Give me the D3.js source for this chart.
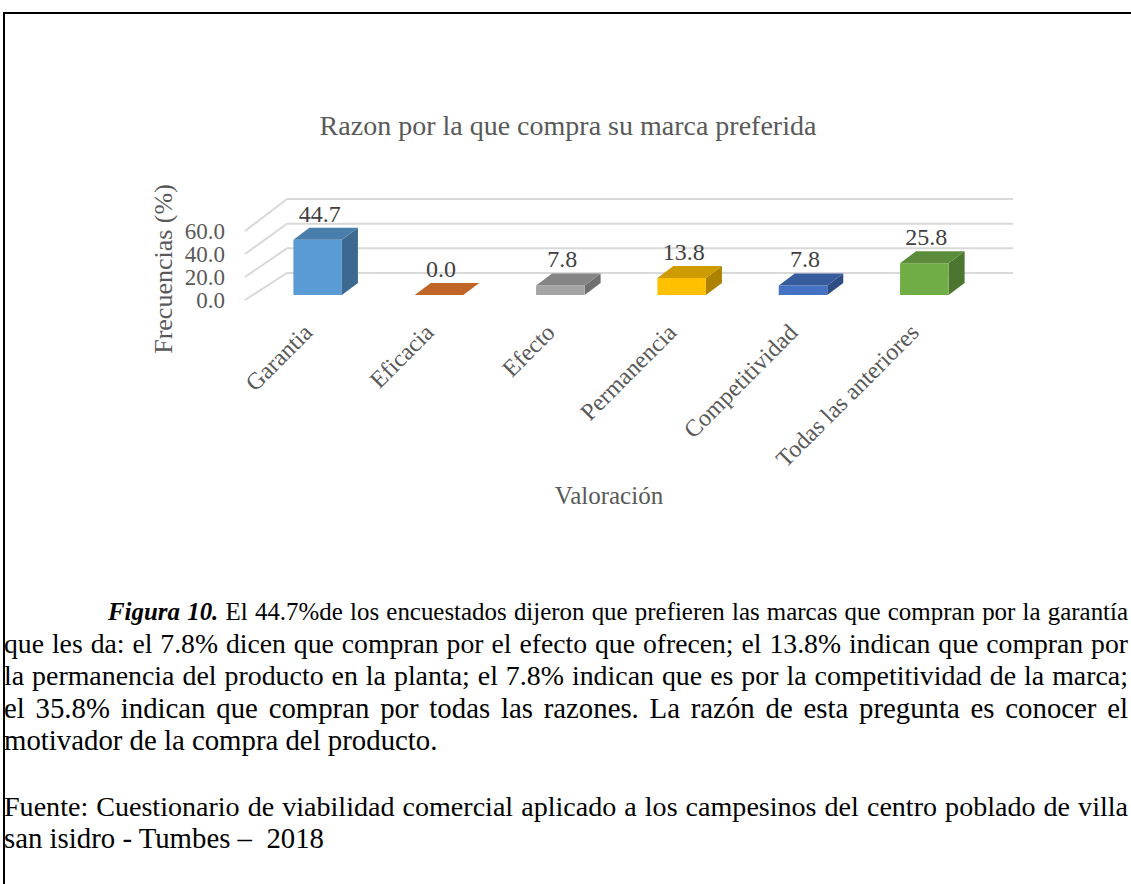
<!DOCTYPE html>
<html>
<head>
<meta charset="utf-8">
<script src="https://cdn.jsdelivr.net/npm/d3@7"></script>
<style>
  body { margin: 0; background: #fff; }
  text { font-family: "Liberation Serif", "Times New Roman", serif; }
</style>
</head>
<body>
<div id="grafico"></div>
<script>
// datos
var categorias = ["Garantia", "Eficacia", "Efecto", "Permanencia", "Competitividad", "Todas las anteriores"];
var frecuencias = [44.7, 0.0, 7.8, 13.8, 7.8, 25.8];
var ticksY = [0, 20, 40, 60];
var titulo = "Razon por la que compra su marca preferida";
var tituloY = "Frecuencias (%)";
var tituloX = "Valoración";
var primeraLinea = " El 44.7%de los encuestados dijeron que prefieren las marcas que compran por la garantía";
var lineasNota = [
  "que les da: el 7.8% dicen que compran por el efecto que ofrecen; el 13.8% indican que compran por",
  "la permanencia del producto en la planta; el 7.8% indican que es por la competitividad de la marca;",
  "el 35.8% indican que compran por todas las razones. La razón de esta pregunta es conocer el",
  "motivador de la compra del producto."
];
var lineasFuente = [
  "Fuente: Cuestionario de viabilidad comercial aplicado a los campesinos del centro poblado de villa",
  "san isidro - Tumbes –  2018"
];

var width = 1131, height = 884;
var gris = "#595959";
var paleta = ["#5B9BD5", "#ED7D31", "#A5A5A5", "#FFC000", "#4472C4", "#70AD47"];

var svg = d3.select("#grafico").append("svg")
  .attr("width", width)
  .attr("height", height);

// marco
svg.append("path")
  .attr("d", "M4," + height + "V13H" + width)
  .attr("fill", "none")
  .attr("stroke", "#000")
  .attr("stroke-width", 2);

////////////////////////// Escalas //////////////////////////
var x = d3.scaleBand().domain(categorias).range([257, 985]).paddingInner(0.6).paddingOuter(0.3);
var yBar = d3.scaleLinear().domain([0, 60]).range([295, 221]);
var yBack = d3.scaleLinear().domain([0, 60]).range([273, 199]);
var yFront = d3.scaleLinear().domain([0, 60]).range([300, 231]);
var color = d3.scaleOrdinal().domain(categorias).range(paleta);
var dx = 16, dy = -12;
var paredX0 = 245, paredX1 = 287, paredX2 = 1013;

////////////////////////// Rejilla //////////////////////////
var rejilla = svg.append("g").attr("stroke", "#D9D9D9").attr("stroke-width", 2).attr("fill", "none");
rejilla.selectAll("path")
  .data(ticksY)
  .enter()
  .append("path")
  .attr("d", function(d) {
    return "M" + paredX0 + "," + yFront(d) + "L" + paredX1 + "," + yBack(d) + "H" + paredX2;
  });

svg.append("g").selectAll("text")
  .data(ticksY)
  .enter()
  .append("text")
  .attr("x", 225)
  .attr("y", function(d) { return yFront(d) + 8; })
  .attr("text-anchor", "end")
  .attr("font-size", 23)
  .attr("fill", gris)
  .text(function(d) { return d3.format(".1f")(d); });

////////////////////////// Barras 3D //////////////////////////
var barras = svg.append("g").selectAll("g")
  .data(frecuencias)
  .enter()
  .append("g");

function caraFrente(d, i) {
  var x0 = x(categorias[i]), x1 = x0 + x.bandwidth();
  return "M" + x0 + "," + yBar(0) + "H" + x1 + "V" + yBar(d) + "H" + x0 + "Z";
}
function caraArriba(d, i) {
  var x0 = x(categorias[i]), x1 = x0 + x.bandwidth(), yt = yBar(d);
  return "M" + x0 + "," + yt + "H" + x1 + "L" + (x1 + dx) + "," + (yt + dy) + "H" + (x0 + dx) + "Z";
}
function caraLado(d, i) {
  var x1 = x(categorias[i]) + x.bandwidth();
  return "M" + x1 + "," + yBar(0) + "V" + yBar(d) + "L" + (x1 + dx) + "," + (yBar(d) + dy) +
    "V" + (yBar(0) + dy) + "Z";
}

barras.append("path")
  .attr("d", caraLado)
  .attr("fill", function(d, i) { return d3.color(color(categorias[i])).darker(1.1); });
barras.append("path")
  .attr("d", caraFrente)
  .attr("fill", function(d, i) { return color(categorias[i]); });
barras.append("path")
  .attr("d", caraArriba)
  .attr("fill", function(d, i) { return d3.color(color(categorias[i])).darker(0.6); });

barras.append("text")
  .attr("x", function(d, i) { return x(categorias[i]) + x.bandwidth() / 2 + 2; })
  .attr("y", function(d) { return yBar(d) + dy - 6; })
  .attr("text-anchor", "middle")
  .attr("font-size", 24)
  .attr("fill", "#404040")
  .text(function(d) { return d3.format(".1f")(d); });

////////////////////////// Etiquetas //////////////////////////
svg.append("g").selectAll("text")
  .data(categorias)
  .enter()
  .append("text")
  .attr("transform", function(d) {
    return "translate(" + (x(d) + x.bandwidth() / 2 - 4) + ",334) rotate(-45)";
  })
  .attr("text-anchor", "end")
  .attr("font-size", 24)
  .attr("fill", gris)
  .text(function(d) { return d; });

svg.append("text")
  .attr("x", 568).attr("y", 135)
  .attr("text-anchor", "middle")
  .attr("font-size", 28)
  .attr("fill", gris)
  .text(titulo);

svg.append("text")
  .attr("transform", "translate(172,269) rotate(-90)")
  .attr("text-anchor", "middle")
  .attr("font-size", 26)
  .attr("fill", gris)
  .text(tituloY);

svg.append("text")
  .attr("x", 609).attr("y", 504)
  .attr("text-anchor", "middle")
  .attr("font-size", 25)
  .attr("fill", gris)
  .text(tituloX);

////////////////////////// Nota //////////////////////////
var izq = 4, der = 1128, interlinea = 32.6, tam = 28.8, base = 620;

function justificar(t, x0) {
  var natural = t.node().getComputedTextLength();
  var espacios = (t.text().match(/ /g) || []).length;
  var ws = (der - x0 - natural) / espacios;
  if (ws < 0) {
    // la linea no cabe: se reduce la letra hasta que quepa
    var f = +t.attr("font-size") * (der - x0 - espacios) / natural;
    t.attr("font-size", f);
    natural = t.node().getComputedTextLength();
    ws = (der - x0 - natural) / espacios;
  }
  t.attr("word-spacing", ws);
}

var l1 = svg.append("text")
  .attr("x", 108).attr("y", base)
  .attr("font-size", tam)
  .style("white-space", "pre");
l1.append("tspan").attr("font-weight", "bold").attr("font-style", "italic").text("Figura 10.");
l1.append("tspan").text(primeraLinea);
justificar(l1, 108);

lineasNota.forEach(function(l, i) {
  var t = svg.append("text")
    .attr("x", izq).attr("y", base + interlinea * (i + 1))
    .attr("font-size", tam)
    .style("white-space", "pre")
    .text(l);
  if (i < lineasNota.length - 1) justificar(t, izq);
});

lineasFuente.forEach(function(l, i) {
  var t = svg.append("text")
    .attr("x", izq).attr("y", base + interlinea * (6 + i))
    .attr("font-size", tam)
    .style("white-space", "pre")
    .text(l);
  if (i < lineasFuente.length - 1) justificar(t, izq);
});
</script>
</body>
</html>
